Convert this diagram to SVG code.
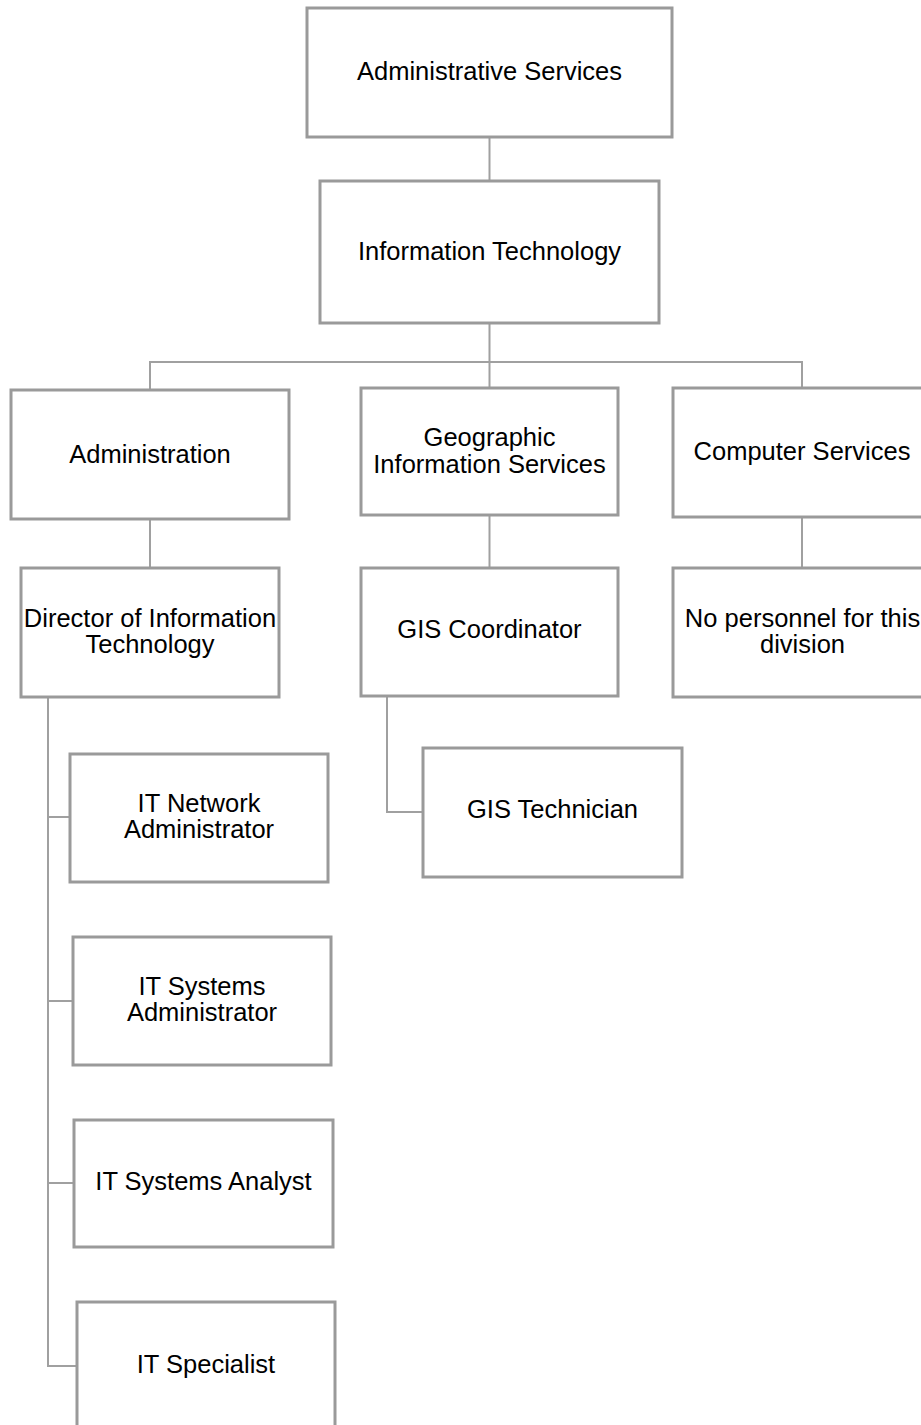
<svg xmlns="http://www.w3.org/2000/svg" width="921" height="1425" viewBox="0 0 921 1425">
<style>
.box{fill:#ffffff;stroke:#9a9a9a;stroke-width:3}
.lbl{font-family:"Liberation Sans",Arial,sans-serif;font-size:25.5px;fill:#000;text-anchor:middle}
.con{fill:none;stroke:#a0a0a0;stroke-width:2}
</style>
<rect width="921" height="1425" fill="#ffffff"/>
<g id="connectors">
<path class="con" d="M489.5 137V181"/>
<path class="con" d="M489.5 323V362M150 390V362H802V388"/>
<path class="con" d="M489.5 362V388"/>
<path class="con" d="M150 519V568"/>
<path class="con" d="M489.5 515V568"/>
<path class="con" d="M802 517V568"/>
<path class="con" d="M387 696V812H423"/>
<path class="con" d="M48 697V1366H77"/>
<path class="con" d="M48 817H70"/>
<path class="con" d="M48 1001H73"/>
<path class="con" d="M48 1183H74"/>
</g>
<g id="n-admin-services"><rect class="box" x="307" y="8" width="365" height="129"/><text class="lbl" x="489.5" y="80">Administrative Services</text></g>
<g id="n-it"><rect class="box" x="320" y="181" width="339" height="142"/><text class="lbl" x="489.5" y="260">Information Technology</text></g>
<g id="n-administration"><rect class="box" x="11" y="390" width="278" height="129"/><text class="lbl" x="150" y="463">Administration</text></g>
<g id="n-gis-services"><rect class="box" x="361" y="388" width="257" height="127"/><text class="lbl" x="489.5" y="446">Geographic</text><text class="lbl" x="489.5" y="472.5">Information Services</text></g>
<g id="n-computer"><rect class="box" x="673" y="388" width="258" height="129"/><text class="lbl" x="802" y="460">Computer Services</text></g>
<g id="n-director"><rect class="box" x="21" y="568" width="258" height="129"/><text class="lbl" x="150" y="627">Director of Information</text><text class="lbl" x="150" y="653">Technology</text></g>
<g id="n-gis-coord"><rect class="box" x="361" y="568" width="257" height="128"/><text class="lbl" x="489.5" y="638">GIS Coordinator</text></g>
<g id="n-no-personnel"><rect class="box" x="673" y="568" width="258" height="129"/><text class="lbl" x="802.5" y="627">No personnel for this</text><text class="lbl" x="802.5" y="653">division</text></g>
<g id="n-gis-tech"><rect class="box" x="423" y="748" width="259" height="129"/><text class="lbl" x="552.5" y="818">GIS Technician</text></g>
<g id="n-it-network"><rect class="box" x="70" y="754" width="258" height="128"/><text class="lbl" x="199" y="811.5">IT Network</text><text class="lbl" x="199" y="837.5">Administrator</text></g>
<g id="n-it-sysadmin"><rect class="box" x="73" y="937" width="258" height="128"/><text class="lbl" x="202" y="995">IT Systems</text><text class="lbl" x="202" y="1020.5">Administrator</text></g>
<g id="n-it-analyst"><rect class="box" x="74" y="1120" width="259" height="127"/><text class="lbl" x="203.5" y="1190">IT Systems Analyst</text></g>
<g id="n-it-specialist"><rect class="box" x="77" y="1302" width="258" height="128"/><text class="lbl" x="206" y="1373">IT Specialist</text></g>
</svg>
